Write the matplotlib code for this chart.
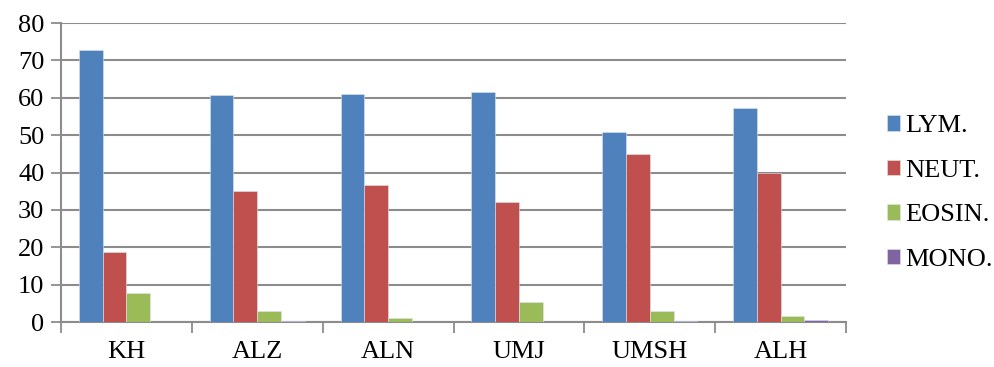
import matplotlib.pyplot as plt
import numpy as np

plt.rcParams['font.family'] = ['Liberation Serif', 'DejaVu Serif']

categories = ['KH', 'ALZ', 'ALN', 'UMJ', 'UMSH', 'ALH']
series_names = ['LYM.', 'NEUT.', 'EOSIN.', 'MONO.']
lym = [72.9, 60.7, 61.1, 61.6, 50.9, 57.3]
neut = [18.7, 35.1, 36.8, 32.1, 45.1, 40.0]
eosin = [7.8, 3.0, 1.1, 5.4, 3.0, 1.7]
mono = [0.0, 0.4, 0.1, 0.0, 0.4, 0.5]
colors = ['#4F81BD', '#C0504D', '#9BBB59', '#8064A2']

fig = plt.figure(figsize=(9.94, 3.67), dpi=100)
ax = fig.add_axes([0.0614, 0.1226, 0.7897, 0.8144])

x = np.arange(len(categories))
width = 1 / 5.5
for i, (vals, name, c) in enumerate(zip([lym, neut, eosin, mono], series_names, colors)):
    offs = (i - 1.5) * width
    ax.bar(x + offs, vals, width, color=c, label=name, edgecolor='#dde6f0',
           linewidth=0.4, zorder=3)

ax.set_xlim(-0.5, len(categories) - 0.5)
ax.set_ylim(0, 80)
ax.set_yticks(range(0, 81, 10))
ax.yaxis.grid(True, color='#8c8c8c', linewidth=1.5, zorder=0)
ax.set_axisbelow(True)

ax.set_xticks(x)
ax.set_xticklabels(categories)
ax.set_xticks(np.arange(-0.5, len(categories)), minor=True)
ax.tick_params(axis='x', which='major', length=0, pad=14, labelsize=19)
ax.tick_params(axis='x', which='minor', length=8, width=1.3, color='#8c8c8c')
ax.tick_params(axis='y', length=7, width=1.3, color='#8c8c8c', labelsize=19, pad=5)

for s in ['top', 'right']:
    ax.spines[s].set_visible(False)
for s in ['left', 'bottom']:
    ax.spines[s].set_color('#8c8c8c')
    ax.spines[s].set_linewidth(1.5)

fig.legend(loc='center left', bbox_to_anchor=(0.892, 0.474), frameon=False,
           fontsize=19, handlelength=0.52, handleheight=0.52, handletextpad=0.2,
           labelspacing=0.85, borderpad=0, borderaxespad=0)

fig.savefig('out.png', dpi=100)
